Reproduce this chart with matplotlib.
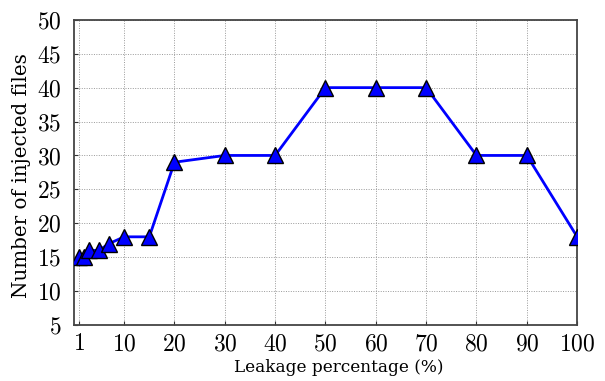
import matplotlib
matplotlib.use('Agg')
import matplotlib.pyplot as plt

leakage = [1, 2, 3, 5, 7, 10, 15, 20, 30, 40, 50, 60, 70, 80, 90, 100]
injected = [15, 15, 16, 16, 17, 18, 18, 29, 30, 30, 40, 40, 40, 30, 30, 18]
xticks = [1, 10, 20, 30, 40, 50, 60, 70, 80, 90, 100]
yticks = [5, 10, 15, 20, 25, 30, 35, 40, 45, 50]

plt.rcParams['font.family'] = 'cmr10'
plt.rcParams['mathtext.fontset'] = 'cm'
plt.rcParams['axes.formatter.use_mathtext'] = True

fig = plt.figure(figsize=(6.05, 3.81), dpi=100)
ax = fig.add_axes([0.122, 0.147, 0.832, 0.801])
ax.plot(leakage, injected, color='#0000ff', lw=2, marker='^', markersize=12,
        markerfacecolor='#0000ff', markeredgecolor='black', markeredgewidth=1, zorder=3)
ax.set_xlim(0, 100)
ax.set_ylim(5, 50)
ax.set_xticks(xticks)
ax.set_yticks(yticks)
ax.grid(True, linestyle=(0, (1, 1.5)), color='#999999', lw=0.7)
ax.tick_params(labelsize=17, direction='in', length=3, color='#333333')
ax.tick_params(axis='y', pad=9)
ax.tick_params(axis='x', pad=6)
ax.set_xlabel('Leakage percentage (%)', fontsize=12.2, family='DejaVu Serif')
ax.set_ylabel('Number of injected files', fontsize=14.3, family='DejaVu Serif')
ax.xaxis.set_label_coords(0.527, -0.112)
ax.yaxis.set_label_coords(-0.085, 0.489)
for s in ax.spines.values():
    s.set_linewidth(1.3)
    s.set_color('#444444')
fig.savefig('out.png', dpi=100)
